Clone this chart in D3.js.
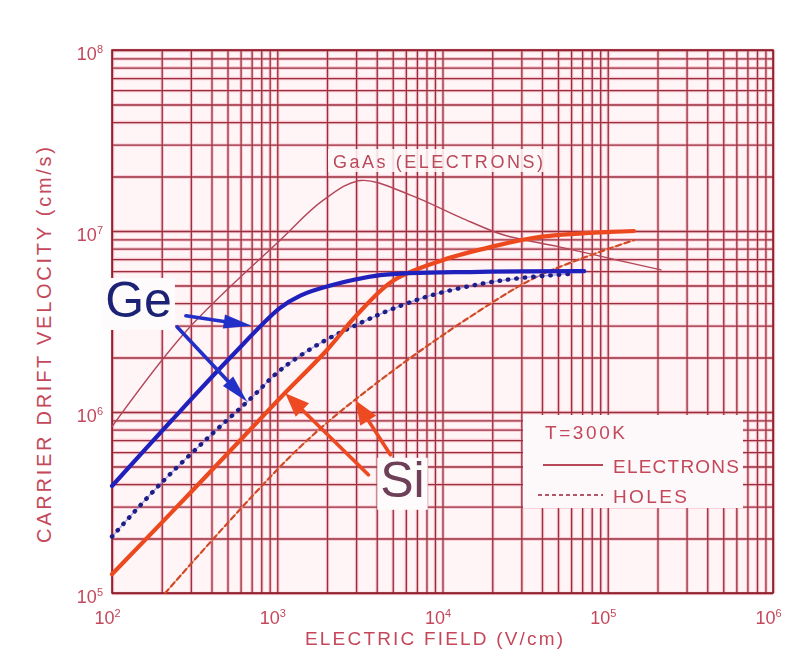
<!DOCTYPE html>
<html><head><meta charset="utf-8">
<script src="https://cdn.jsdelivr.net/npm/d3@7"></script>
<style>body{margin:0;background:#fff}svg{display:block}</style>
</head><body><svg id="chart" width="799" height="658"></svg>
<script>
// Carrier drift velocity versus electric field in Ge, Si and GaAs at T = 300 K
const fieldTicks = [1e2, 1e3, 1e4, 1e5, 1e6];
const velocityTicks = [1e5, 1e6, 1e7, 1e8];

// [electric field (V/cm), drift velocity (cm/s)]
const gaasElectrons = [[100,8.3e5],[285,2.84e6],[1040,8.9e6],[1900,1.48e7],[3200,1.9e7],[6400,1.58e7],[1.28e4,1.19e7],[2.35e4,9.5e6],[5e4,8.2e6],[1e5,7.1e6],[2.1e5,6.1e6]];
const geElectrons = [[100,3.9e5],[230,9e5],[520,2.0e6],[1040,3.76e6],[1380,4.4e6],[2100,5.0e6],[4200,5.7e6],[1.7e4,5.95e6],[7.2e4,6.0e6]];
const geHoles = [[100,2.05e5],[196,4.0e5],[393,7.4e5],[686,1.18e6],[1040,1.7e6],[1820,2.4e6],[3180,3.1e6],[4840,3.67e6],[8450,4.4e6],[1.7e4,5.1e6],[3e4,5.5e6],[6e4,5.8e6]];
const siElectrons = [[100,1.27e5],[300,3.6e5],[1000,1.15e6],[2000,2.2e6],[3000,3.4e6],[5000,5.3e6],[1e4,6.9e6],[2e4,8.2e6],[4e4,9.3e6],[1.44e5,1.0e7]];
const siHoles = [[210,1e5],[1322,6.2e5],[4210,1.5e6],[1.7e4,3.66e6],[3.9e4,5.7e6],[1.44e5,8.9e6]];

// pointer arrows from the material labels to their curves, in data units
const geArrows = [{from:[280,3.4e6], to:[700,3.0e6]}, {from:[248,2.95e6], to:[658,1.14e6]}];
const siArrows = [{from:[3560,4.5e5], to:[1118,1.27e6]}, {from:[4840,5.8e5], to:[2970,1.16e6]}];
const geLabelAt = [91, 3.35e6];
const siLabelAt = [4200, 3.4e5];

const svg = d3.select("#chart");
const plotLeft = 112, plotRight = 773, plotTop = 50, plotBottom = 593;
const x = d3.scaleLog().domain([1e2, 1e6]).range([plotLeft, plotRight]);
const y = d3.scaleLog().domain([1e5, 1e8]).range([plotBottom, plotTop]);

const ink = "#c4475a";
const gridInk = "#8e1e2c";

// plot paper
svg.append("rect").attr("x", plotLeft).attr("y", plotTop).attr("width", plotRight - plotLeft).attr("height", plotBottom - plotTop)
  .attr("fill", "#fff4f6");

// log grid: 1..9 in every decade
const xGrid = [], yGrid = [];
for (let d = 2; d < 6; d++) for (let k = 1; k < 10; k++) xGrid.push(k * Math.pow(10, d));
xGrid.push(1e6);
for (let d = 5; d < 8; d++) for (let k = 1; k < 10; k++) yGrid.push(k * Math.pow(10, d));
yGrid.push(1e8);

function gridLayer(color, width, opacity) {
  const g = svg.append("g").attr("opacity", opacity);
  g.append("g").attr("transform", `translate(0,${plotBottom})`)
    .call(d3.axisBottom(x).tickValues(xGrid).tickSize(-(plotBottom - plotTop)).tickFormat(""))
    .call(s => s.select(".domain").remove());
  g.append("g").attr("transform", `translate(${plotLeft},0)`)
    .call(d3.axisLeft(y).tickValues(yGrid).tickSize(-(plotRight - plotLeft)).tickFormat(""))
    .call(s => s.select(".domain").remove());
  g.selectAll(".tick line").attr("stroke", color).attr("stroke-width", width);
  return g;
}
gridLayer("#f3a2b2", 3.4, 0.55);
gridLayer(gridInk, 1.3, 0.9);
svg.append("rect").attr("x", plotLeft).attr("y", plotTop).attr("width", plotRight - plotLeft).attr("height", plotBottom - plotTop)
  .attr("fill", "none").attr("stroke", gridInk).attr("stroke-width", 1.6);

// tick labels written as powers of ten
function powerLabel(sel, v) {
  const e = Math.round(Math.log10(v));
  sel.text("");
  sel.append("tspan").text("10");
  sel.append("tspan").attr("dy", -7).attr("font-size", 11).text(e);
}
const xAxis = svg.append("g").attr("transform", `translate(0,${plotBottom})`)
  .call(d3.axisBottom(x).tickValues(fieldTicks).tickSize(0).tickPadding(31).tickFormat(d => d));
xAxis.select(".domain").remove();
xAxis.selectAll("text").attr("font-family", "Liberation Sans, Arial, sans-serif").attr("font-size", 18)
  .attr("fill", ink).attr("dx", -5).attr("dy", 0).each(function(d) { powerLabel(d3.select(this), d); });

const yAxis = svg.append("g").attr("transform", `translate(${plotLeft},0)`)
  .call(d3.axisLeft(y).tickValues(velocityTicks).tickSize(0).tickPadding(9).tickFormat(d => d));
yAxis.select(".domain").remove();
yAxis.selectAll("text").attr("font-family", "Liberation Sans, Arial, sans-serif").attr("font-size", 18)
  .attr("fill", ink).attr("dy", "0.55em").each(function(d) { powerLabel(d3.select(this), d); });

// axis titles
svg.append("text").attr("x", 434).attr("y", 645).attr("text-anchor", "middle")
  .attr("font-family", "Liberation Sans, Arial, sans-serif").attr("font-size", 19).attr("fill", ink)
  .attr("textLength", 258).attr("lengthAdjust", "spacing").text("ELECTRIC FIELD (V/cm)");
svg.append("text").attr("transform", "translate(51,345) rotate(-90)").attr("text-anchor", "middle")
  .attr("font-family", "Liberation Sans, Arial, sans-serif").attr("font-size", 20).attr("fill", ink)
  .attr("textLength", 396).attr("lengthAdjust", "spacing").text("CARRIER DRIFT VELOCITY (cm/s)");

// GaAs label
const gaasLabel = svg.append("g");
gaasLabel.append("rect").attr("x", 328).attr("y", 149).attr("width", 220).attr("height", 23).attr("fill", "#fff8f9").attr("opacity", 0.85);
gaasLabel.append("text").attr("x", 333).attr("y", 168)
  .attr("font-family", "Liberation Sans, Arial, sans-serif").attr("font-size", 18).attr("fill", "#b84a5c")
  .attr("textLength", 210).attr("lengthAdjust", "spacing").text("GaAs (ELECTRONS)");

// curves
const line = d3.line().x(d => x(d[0])).y(d => y(d[1])).curve(d3.curveCatmullRom.alpha(0.5));
function curve(data, color, width, dash) {
  const p = svg.append("path").datum(data).attr("d", line).attr("fill", "none")
    .attr("stroke", color).attr("stroke-width", width).attr("stroke-linecap", "round").attr("stroke-linejoin", "round");
  if (dash) p.attr("stroke-dasharray", dash);
  return p;
}
curve(gaasElectrons, "#b34658", 1.4);
curve(siHoles, "#f2a070", 1.2);
curve(siHoles, "#cf4a2a", 2.2, "5,4");
curve(geHoles, "#7a7ae8", 1.4).attr("opacity", 0.6);
curve(geHoles, "#1d1f86", 4.4, "0.5,8");
curve(siElectrons, "#ec4a1e", 4.2);
curve(geElectrons, "#2020bd", 4.2);

// arrows
function arrow(a, color, width, headLen, headW) {
  const x0 = x(a.from[0]), y0 = y(a.from[1]), x1 = x(a.to[0]), y1 = y(a.to[1]);
  const dx = x1 - x0, dy = y1 - y0, len = Math.hypot(dx, dy);
  const ux = dx / len, uy = dy / len, bx = x1 - ux * headLen, by = y1 - uy * headLen;
  svg.append("line").attr("x1", x0).attr("y1", y0).attr("x2", bx).attr("y2", by)
    .attr("stroke", color).attr("stroke-width", width).attr("stroke-linecap", "round");
  svg.append("polygon").attr("fill", color)
    .attr("points", [[x1, y1], [bx - uy * headW / 2, by + ux * headW / 2], [bx + uy * headW / 2, by - ux * headW / 2]].map(p => p.join(",")).join(" "));
}

// material labels on white patches
function materialLabel(at, text, color) {
  const t = svg.append("text").attr("x", x(at[0])).attr("y", y(at[1]))
    .attr("font-family", "Liberation Sans, Arial, sans-serif").attr("font-size", 50).attr("fill", color).text(text);
  const b = t.node().getBBox();
  svg.insert("rect", () => t.node()).attr("x", b.x - 3).attr("y", b.y + 6).attr("width", b.width + 6).attr("height", b.height - 4)
    .attr("fill", "#fdfbfc");
}
materialLabel(geLabelAt, "Ge", "#1c2375");
materialLabel(siLabelAt, "Si", "#6e4058");
geArrows.forEach(a => arrow(a, "#2230c8", 3.6, 28, 14));
siArrows.forEach(a => arrow(a, "#ee4a22", 3.6, 24, 19));

// legend
const lg = svg.append("g");
lg.append("rect").attr("x", 523).attr("y", 415).attr("width", 220).attr("height", 93).attr("fill", "#fdf9fa");
const lgFont = "Liberation Sans, Arial, sans-serif";
lg.append("text").attr("x", 545).attr("y", 439).attr("font-family", lgFont).attr("font-size", 19).attr("fill", ink)
  .attr("textLength", 80).attr("lengthAdjust", "spacing").text("T=300K");
lg.append("line").attr("x1", 543).attr("x2", 603).attr("y1", 465).attr("y2", 465).attr("stroke", "#b8475a").attr("stroke-width", 2);
lg.append("text").attr("x", 613).attr("y", 473).attr("font-family", lgFont).attr("font-size", 19).attr("fill", ink)
  .attr("textLength", 126).attr("lengthAdjust", "spacing").text("ELECTRONS");
lg.append("line").attr("x1", 538).attr("x2", 603).attr("y1", 495).attr("y2", 495).attr("stroke", "#b0586a").attr("stroke-width", 1.8).attr("stroke-dasharray", "4,3");
lg.append("text").attr("x", 613).attr("y", 503).attr("font-family", lgFont).attr("font-size", 19).attr("fill", ink)
  .attr("textLength", 74).attr("lengthAdjust", "spacing").text("HOLES");
</script></body></html>
